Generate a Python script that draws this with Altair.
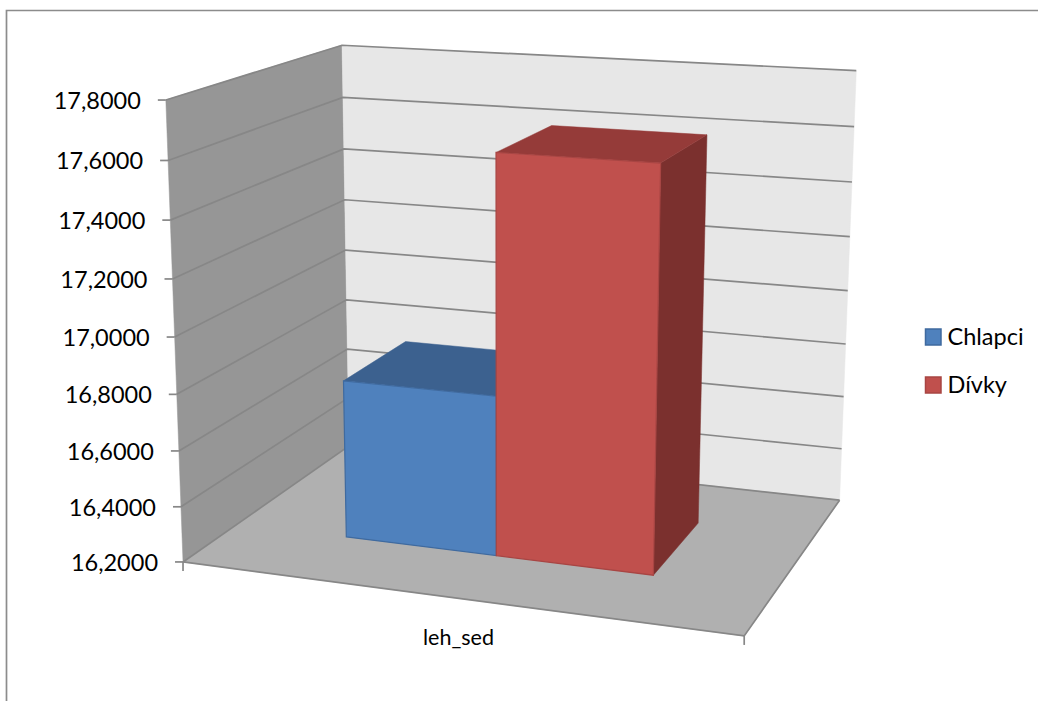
import altair as alt
import numpy as np
import pandas as pd

# Chart content
CATEGORY = "leh_sed"
SERIES = ["Chlapci", "Dívky"]
VALUES = [16.775, 17.615]
AXIS_MIN, AXIS_MAX = 16.2, 17.8
TICK_VALUES = [16.2, 16.4, 16.6, 16.8, 17.0, 17.2, 17.4, 17.6, 17.8]
TICK_LABELS = ["16,2000", "16,4000", "16,6000", "16,8000", "17,0000",
               "17,2000", "17,4000", "17,6000", "17,8000"]

# Colours
FRONT = ["#4f81bd", "#c0504d"]
TOP = ["#3c618f", "#953b39"]
SIDE = ["#385d8a", "#7b302e"]
EDGE = ["#3f6a9f", "#a84543"]
WALL_LEFT = "#969696"
WALL_BACK = "#e7e7e7"
FLOOR = "#b0b0b0"
LINE = "#878787"
FONT = "Lato"
W, H = 1038, 701

# Perspective camera for the plot box: (across, depth, height), each 0..1
BOX_3D = [(0, 0, 0), (1, 0, 0), (1, 1, 0), (0, 1, 0), (0, 0, 1), (0, 1, 1), (1, 1, 1)]
BOX_2D = [(184, 561), (744, 637), (840, 499), (348, 447), (165, 100), (343, 45), (856, 71)]


def fit_camera(p3, p2):
    rows = []
    for (a, b, c), (x, y) in zip(p3, p2):
        rows.append([a, b, c, 1, 0, 0, 0, 0, -x * a, -x * b, -x * c, -x])
        rows.append([0, 0, 0, 0, a, b, c, 1, -y * a, -y * b, -y * c, -y])
    return np.linalg.svd(np.array(rows, float))[2][-1].reshape(3, 4)


CAMERA = fit_camera(BOX_3D, BOX_2D)


def project(u, d, value):
    h = (value - AXIS_MIN) / (AXIS_MAX - AXIS_MIN)
    q = CAMERA @ np.array([u, d, h, 1.0])
    return q[0] / q[2], q[1] / q[2]


X = alt.X("x:Q", scale=alt.Scale(domain=[0, W], nice=False, zero=False), axis=None)
Y = alt.Y("y:Q", scale=alt.Scale(domain=[H, 0], nice=False, zero=False), axis=None)


def table(points):
    return pd.DataFrame([{"x": float(x), "y": float(y), "i": i} for i, (x, y) in enumerate(points)])


def face(points, fill, stroke=None, width=0.0):
    return alt.Chart(table(points)).mark_line(
        interpolate="linear-closed", fill=fill, stroke=stroke or fill, strokeWidth=width or 0.5
    ).encode(x=X, y=Y, order="i:Q")


def path(points, color=LINE, width=1.7):
    return alt.Chart(table(points)).mark_line(stroke=color, strokeWidth=width).encode(x=X, y=Y, order="i:Q")


def text(x, y, label, size=23.5, align="center"):
    return alt.Chart(pd.DataFrame({"x": [x], "y": [y], "t": [label]})).mark_text(
        font=FONT, fontSize=size, align=align, baseline="middle", color="#000000"
    ).encode(x=X, y=Y, text="t:N")


layers = []

# Chart frame (top and left sides fall inside the page)
layers.append(path([(6.5, H), (6.5, 10.5), (W, 10.5)], "#8c8c8c", 1.7))

# Walls and floor
top, low = AXIS_MAX, AXIS_MIN
layers.append(face([project(0, 0, low), project(0, 1, low), project(0, 1, top), project(0, 0, top)], WALL_LEFT))
layers.append(face([project(0, 1, low), project(1, 1, low), project(1, 1, top), project(0, 1, top)], WALL_BACK))
layers.append(face([project(0, 0, low), project(1, 0, low), project(1, 1, low), project(0, 1, low)], FLOOR))

# Gridlines running along both walls, with ticks and labels at the front edge
for value, label in zip(TICK_VALUES, TICK_LABELS):
    layers.append(path([project(0, 0, value), project(0, 1, value), project(1, 1, value)]))
    fx, fy = project(0, 0, value)
    layers.append(path([(fx - 8, fy), (fx, fy)]))
    layers.append(text(fx - 25, fy + 2, label, align="right"))

# Floor outline and category ticks
layers.append(path([project(0, 0, low), project(1, 0, low), project(1, 1, low)]))
for u in (0, 1):
    bx, by = project(u, 0, low)
    layers.append(path([(bx, by), (bx, by + 9)]))

layers.append(text(458.5, 639, CATEGORY, size=21.5))

# The two columns, three visible faces each
D0, D1 = 0.3, 0.7
BAR_EDGES = [(3 / 14, 0.5), (0.5, 11 / 14)]
for k in range(2):
    u0, u1 = BAR_EDGES[k]
    v = VALUES[k]
    layers.append(face([project(u1, D0, low), project(u1, D1, low), project(u1, D1, v), project(u1, D0, v)], SIDE[k]))
    layers.append(face([project(u0, D0, v), project(u1, D0, v), project(u1, D1, v), project(u0, D1, v)], TOP[k]))
    layers.append(face([project(u0, D0, low), project(u1, D0, low), project(u1, D0, v), project(u0, D0, v)],
                       FRONT[k], EDGE[k], 1.2))

# Legend
for k, (name, ly) in enumerate(zip(SERIES, (337, 385))):
    layers.append(face([(925.5, ly - 8), (941, ly - 8), (941, ly + 8), (925.5, ly + 8)], FRONT[k], EDGE[k], 1.5))
    layers.append(text(947.5, ly + 1, name, size=23.5, align="left"))

chart = alt.layer(*layers).properties(
    width=W, height=H, padding=0, autosize=alt.AutoSizeParams(type="none"), background="white"
).configure_view(stroke=None)

chart.save("out.html", embed_options={"renderer": "svg", "actions": False})
